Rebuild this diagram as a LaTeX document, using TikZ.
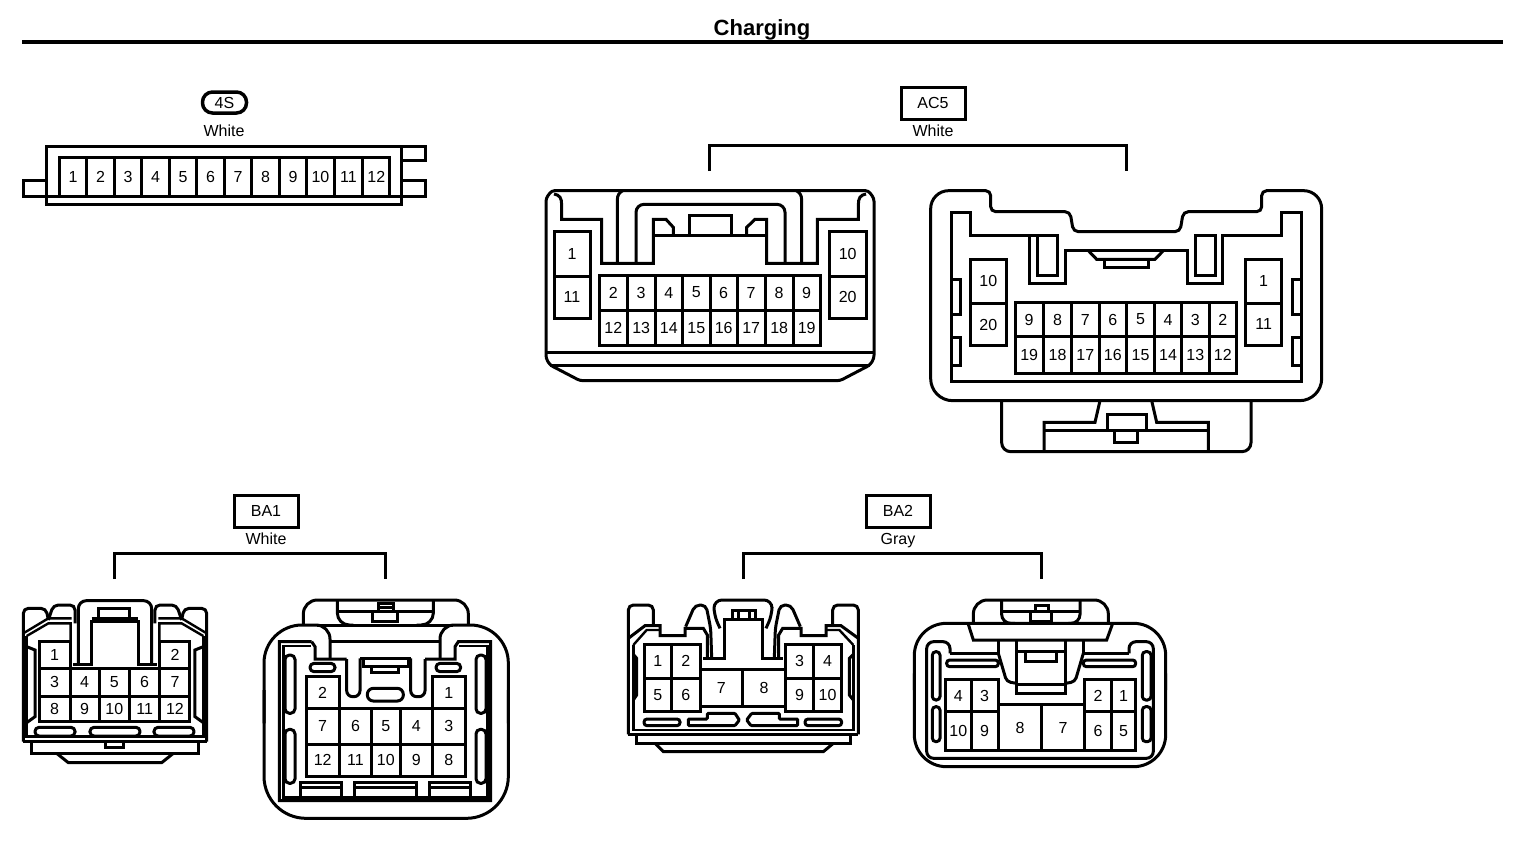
\documentclass[tikz,border=0pt]{standalone}
\usepackage{fontspec}
\setmainfont{Liberation Sans}
\newcount\pincount
\newcommand{\pincell}[5]{\global\advance\pincount by 1
  \draw[ln] (#1,#2) rectangle node[lbl] (pin\the\pincount) {#5} (#3,#4);}
\tikzset{
  ln/.style={line width=3pt,line join=miter,draw=black},
  thin ln/.style={line width=2.4pt,draw=black},
  lbl/.style={inner sep=0pt,font=\fontsize{16}{16}\selectfont,text=black},
  zm/.style n args={2}{shift={(#1,#2)},x=0.33333pt,y=-0.33333pt},
  badge/.style={draw=black,line width=3pt,inner sep=0pt,minimum width=64pt,minimum height=32pt,font=\fontsize{16}{16}\selectfont},
  capt/.style={inner sep=0pt,anchor=base,font=\fontsize{16}{16}\selectfont},
  bracket/.style={line width=3pt,line cap=butt,line join=miter}
}
\begin{document}
\begin{tikzpicture}[x=1pt,y=-1pt]
\useasboundingbox (0,0) rectangle (1520,854);
% ---------- title
\node[inner sep=0pt,anchor=base,font=\fontsize{22}{22}\selectfont\bfseries] (title) at (762,35) {Charging};
\draw[line width=4.5pt] (22,42) -- (1503,42);
% ---------- badges and captions
\node[draw=black,line width=3.5pt,rounded corners=10pt,minimum width=44pt,minimum height=21pt,inner sep=0pt,font=\fontsize{16}{16}\selectfont] (b4s) at (224.5,102.5) {4S};
\node[capt] (c4s) at (224,136) {White};
\node[badge] (bac5) at (933,103) {AC5};
\node[capt] (cac5) at (933,136) {White};
\node[badge] (bba1) at (266,511) {BA1};
\node[capt] (cba1) at (266,544) {White};
\node[badge] (bba2) at (898,511) {BA2};
\node[capt] (cba2) at (898,544) {Gray};
\draw[bracket] (709.5,171) -- (709.5,145) -- (1126.5,145) -- (1126.5,171);
\draw[bracket] (114.5,579) -- (114.5,553) -- (385.5,553) -- (385.5,579);
\draw[bracket] (743,579) -- (743,553) -- (1041,553) -- (1041,579);
% ---------- 4S
\begin{scope}[zm={0}{80}]
\draw[ln] (140,198) rectangle (1205,372);
\draw[ln] (140,348) -- (1205,348);
\draw[ln] (140,300) -- (72,300) -- (72,348) -- (140,348);
\draw[ln] (1205,198) -- (1278,198) -- (1278,240) -- (1205,240);
\draw[ln] (1205,300) -- (1278,300) -- (1278,348) -- (1205,348);
\foreach \a/\b/\t in {178/260/1,260/343/2,343/425/3,425/508/4,508/590/5,590/673/6,673/755/7,755/838/8,838/920/9,920/1003/10,1003/1088/11,1088/1170/12}
  {\pincell{\a}{232}{\b}{348}{\t}}
\end{scope}
% ---------- AC5 left
\begin{scope}[zm={530}{170}]
\draw[ln,rounded corners=3pt] (48,85) -- (65,62) -- (1015,62) -- (1032,85) -- (1032,565) -- (1020,585) -- (930,632) -- (150,632) -- (60,585) -- (48,565) -- cycle;
\draw[ln] (48,548) -- (1032,548);
\draw[ln] (60,585) -- (1020,585);
\draw[ln] (72,72) .. controls (90,75) and (95,85) .. (95,105) -- (95,148) -- (215,148) -- (215,280) -- (370,280) -- (370,148) -- (408,148) -- (430,172) -- (430,195);
\draw[ln] (370,195) -- (710,195);
\draw[ln] (1008,72) .. controls (990,75) and (985,85) .. (985,105) -- (985,148) -- (862,148) -- (862,280) -- (710,280) -- (710,148) -- (675,148) -- (650,172) -- (650,195);
\draw[ln] (262,280) -- (262,90) .. controls (262,75) and (268,68) .. (278,62);
\draw[ln] (815,280) -- (815,90) .. controls (815,75) and (809,68) .. (799,62);
\draw[ln,rounded corners=8pt] (318,280) -- (318,103) -- (765,103) -- (765,280);
\draw[ln] (478,195) -- (478,135) -- (603,135) -- (603,195);
\pincell{72}{183}{180}{318}{1}
\pincell{72}{318}{180}{445}{11}
\pincell{898}{183}{1008}{318}{10}
\pincell{898}{318}{1008}{445}{20}
\foreach \a/\b/\t/\u in {208/292/2/12,292/375/3/13,375/458/4/14,458/540/5/15,540/622/6/16,622/705/7/17,705/790/8/18,790/870/9/19}
  {\pincell{\a}{315}{\b}{420}{\t}\pincell{\a}{420}{\b}{527}{\u}}
\end{scope}
% ---------- AC5 right
\begin{scope}[zm={920}{180}]
\draw[ln,rounded corners=9pt] (245,662) -- (245,815) -- (993,815) -- (993,662);
\draw[ln] (372,815) -- (372,727) -- (525,727) -- (540,662);
\draw[ln] (865,815) -- (865,727) -- (710,727) -- (695,662);
\draw[ln] (372,750) -- (865,750);
\draw[ln,fill=white] (562,748) -- (562,703) -- (678,703) -- (678,748);
\draw[ln] (583,750) -- (583,788) -- (653,788) -- (653,750);
\draw[ln,rounded corners=18pt] (32,300) -- (32,32) [rounded corners=5pt] -- (212,32) -- (212,95) -- (450,95) -- (460,155) -- (780,155) -- (790,95) -- (1025,95) -- (1025,32) [rounded corners=18pt] -- (1205,32) [rounded corners=22pt] -- (1205,662) -- (32,662) -- cycle;
\draw[ln] (95,97) -- (95,605) -- (1145,605) -- (1145,97) -- (1085,97) -- (1085,165) -- (908,165) -- (908,310) -- (802,310) -- (802,212) -- (437,212) -- (437,310) -- (328,310) -- (328,165) -- (152,165) -- (152,97) -- cycle;
\draw[ln] (328,165) -- (352,165);
\draw[ln] (352,165) rectangle (412,285);
\draw[ln] (825,165) rectangle (885,285);
\draw[ln] (505,212) -- (530,238) -- (705,238) -- (730,212);
\draw[ln] (553,238) -- (553,262) -- (685,262) -- (685,238);
\draw[ln] (95,298) -- (122,298) -- (122,402) -- (95,402);
\draw[ln] (95,472) -- (122,472) -- (122,555) -- (95,555);
\draw[ln] (1145,298) -- (1116,298) -- (1116,402) -- (1145,402);
\draw[ln] (1145,472) -- (1116,472) -- (1116,555) -- (1145,555);
\pincell{152}{238}{258}{370}{10}
\pincell{152}{370}{258}{497}{20}
\pincell{977}{238}{1085}{370}{1}
\pincell{977}{370}{1085}{495}{11}
\foreach \a/\b/\t/\u in {285/370/9/19,370/455/8/18,455/537/7/17,537/620/6/16,620/703/5/15,703/785/4/14,785/867/3/13,867/950/2/12}
  {\pincell{\a}{367}{\b}{470}{\t}\pincell{\a}{470}{\b}{580}{\u}}
\end{scope}
% ---------- BA1 left
\begin{scope}[zm={10}{590}]
\draw[ln,rounded corners=5pt] (40,455) -- (40,55) -- (108,55) -- (115,90);
\draw[ln,rounded corners=5pt] (115,90) -- (130,45) -- (195,45) -- (195,100);
\draw[ln,rounded corners=5pt] (515,90) -- (500,45) -- (435,45) -- (435,100);
\draw[ln,rounded corners=5pt] (515,90) -- (522,55) -- (590,55) -- (590,455);
\draw[ln] (190,222) -- (245,222) -- (245,95) -- (385,95) -- (385,222) -- (440,222);
\draw[ln,rounded corners=8pt] (205,222) -- (205,32) -- (425,32) -- (425,222);
\draw[ln] (265,95) -- (265,55) -- (360,55) -- (360,95);
\draw[ln] (245,85) -- (385,85);
\draw[thin ln] (40,130) -- (115,85) -- (185,85);
\draw[thin ln] (50,138) -- (115,100) -- (182,100) -- (182,228);
\draw[thin ln] (590,130) -- (515,85) -- (445,85);
\draw[thin ln] (580,138) -- (515,100) -- (448,100) -- (448,228);
\draw[thin ln] (50,138) -- (50,440) -- (580,440) -- (580,138);
\draw[ln] (50,170) -- (75,180) -- (75,380) -- (50,398);
\draw[ln] (580,170) -- (555,180) -- (555,380) -- (580,398);
\draw[ln] (40,455) -- (590,455);
\draw[ln] (65,455) -- (65,490) -- (565,490) -- (565,455);
\draw[ln] (140,490) -- (175,518) -- (455,518) -- (490,490);
\draw[ln] (287,458) -- (287,472) -- (340,472) -- (340,458);
\draw[ln,rounded corners=4pt] (75,412) rectangle (195,438);
\draw[ln,rounded corners=4pt] (240,412) rectangle (390,438);
\draw[ln,rounded corners=4pt] (432,412) rectangle (552,438);
\pincell{87}{155}{180}{235}{1}
\pincell{450}{155}{540}{235}{2}
\foreach \a/\b/\t/\u in {87/180/3/8,180/268/4/9,268/358/5/10,358/450/6/11,450/540/7/12}
  {\pincell{\a}{235}{\b}{318}{\t}\pincell{\a}{318}{\b}{395}{\u}}
\end{scope}
% ---------- BA1 right
\begin{scope}[zm={250}{590}]
\draw[ln,rounded corners=14pt] (160,105) -- (160,30) -- (655,30) -- (655,105);
\draw[ln,rounded corners=12pt] (262,30) -- (262,105) -- (310,105);
\draw[ln,rounded corners=12pt] (550,30) -- (550,105) -- (500,105);
\draw[ln] (262,65) -- (550,65);
\draw[ln] (367,65) -- (367,95) -- (443,95) -- (443,65);
\draw[ln] (385,65) -- (385,40) -- (430,40) -- (430,65);
\draw[ln] (385,53) -- (430,53);
\draw[ln] (42,400) [rounded corners=38pt] -- (42,105) [rounded corners=14pt] -- (240,105) -- (240,205);
\draw[ln] (775,400) [rounded corners=38pt] -- (775,105) [rounded corners=14pt] -- (570,105) -- (570,205);
\draw[ln] (200,105) -- (610,105);
\draw[ln,rounded corners=42pt] (42,300) -- (42,685) -- (775,685) -- (775,300);
\draw[ln] (240,155) -- (570,155);
\draw[ln] (185,155) -- (88,155) -- (88,632) -- (722,632) -- (722,155) -- (625,155) -- (615,170) -- (615,207) -- (525,207);
\draw[thin ln] (182,168) -- (100,168) -- (100,622) -- (712,622) -- (712,168) -- (628,168);
\draw[ln] (185,155) -- (195,170) -- (195,207) -- (290,207);
\draw[ln,rounded corners=6pt] (290,207) -- (290,320) -- (330,320) -- (330,205);
\draw[ln,rounded corners=6pt] (482,205) -- (482,320) -- (525,320) -- (525,207);
\draw[ln] (330,205) -- (482,205);
\draw[ln] (340,205) -- (340,228) -- (475,228) -- (475,205);
\draw[ln] (365,228) -- (365,248) -- (445,248) -- (445,228);
\draw[ln,rounded corners=6pt] (352,295) rectangle (460,333);
\draw[ln,rounded corners=4pt] (180,220) rectangle (255,245);
\draw[ln,rounded corners=4pt] (558,220) rectangle (632,245);
\draw[ln,rounded corners=4.5pt] (105,195) rectangle (135,370);
\draw[ln,rounded corners=4.5pt] (105,418) rectangle (135,580);
\draw[ln,rounded corners=4.5pt] (678,195) rectangle (708,370);
\draw[ln,rounded corners=4.5pt] (678,418) rectangle (708,580);
\foreach \a/\b in {152/275,312/500,537/660}
  {\draw[ln] (\a,625) -- (\a,578) -- (\b,578) -- (\b,625);\draw[ln] (\a,592) -- (\b,592);}
\pincell{168}{260}{268}{355}{2}
\pincell{548}{260}{645}{355}{1}
\foreach \a/\b/\t/\u in {168/268/7/12,268/365/6/11,365/450/5/10,450/548/4/9,548/645/3/8}
  {\pincell{\a}{355}{\b}{462}{\t}\pincell{\a}{462}{\b}{560}{\u}}
\end{scope}
% ---------- BA2 left
\begin{scope}[zm={620}{595}]
\draw[ln,rounded corners=5pt] (25,418) -- (25,30) -- (100,30) -- (100,92);
\draw[ln,rounded corners=5pt] (715,418) -- (715,30) -- (638,30) -- (638,92);
\draw[ln,rounded corners=5pt] (197,95) -- (225,30) -- (258,30) -- (272,100) -- (275,188);
\draw[ln,rounded corners=5pt] (541,95) -- (513,30) -- (480,30) -- (466,100) -- (463,188);
\draw[ln,rounded corners=8pt] (300,100) -- (282,60) -- (282,15) -- (456,15) -- (456,60) -- (438,100);
\draw[ln] (250,190) -- (312,190) -- (312,72) -- (428,72) -- (428,190) -- (490,190);
\draw[ln] (338,72) -- (338,45) -- (405,45) -- (405,72);
\draw[ln] (355,72) -- (355,45);
\draw[ln] (388,72) -- (388,45);
\draw[ln] (25,130) -- (75,92) -- (120,92) -- (120,122) -- (195,122) -- (195,100) -- (250,100) -- (262,120) -- (262,190);
\draw[ln] (715,130) -- (663,92) -- (618,92) -- (618,122) -- (543,122) -- (543,100) -- (488,100) -- (476,120) -- (476,190);
\draw[thin ln] (40,150) -- (80,105) -- (120,105);
\draw[thin ln] (700,150) -- (658,105) -- (618,105);
\draw[thin ln] (40,150) -- (40,405) -- (700,405) -- (700,150);
\draw[ln] (40,178) -- (50,190) -- (50,300) -- (40,315);
\draw[ln] (700,178) -- (688,190) -- (688,300) -- (700,315);
\draw[ln] (25,418) -- (715,418);
\draw[ln] (48,418) -- (48,445) -- (690,445) -- (690,418);
\draw[ln] (105,445) -- (130,470) -- (610,470) -- (640,445);
\draw[ln,rounded corners=3pt] (72,372) rectangle (180,392);
\draw[ln,rounded corners=3pt] (555,372) rectangle (665,392);
\draw[ln,rounded corners=1pt] (205,372) -- (262,372) -- (262,355) -- (345,355) -- (358,375) -- (345,392) -- (205,392) -- cycle;
\draw[ln,rounded corners=1pt] (533,372) -- (478,372) -- (478,355) -- (395,355) -- (380,375) -- (393,392) -- (533,392) -- cycle;
\pincell{72}{147}{155}{250}{1}
\pincell{155}{147}{240}{250}{2}
\pincell{72}{250}{155}{350}{5}
\pincell{155}{250}{240}{350}{6}
\pincell{240}{222}{368}{335}{7}
\pincell{368}{222}{497}{335}{8}
\pincell{497}{147}{580}{250}{3}
\pincell{580}{147}{665}{250}{4}
\pincell{497}{250}{580}{350}{9}
\pincell{580}{250}{665}{350}{10}
\end{scope}
% ---------- BA2 right
\begin{scope}[zm={905}{590}]
\draw[ln,rounded corners=14pt] (205,100) -- (205,30) -- (610,30) -- (610,100);
\draw[ln,rounded corners=9pt] (290,30) -- (290,100) -- (330,100);
\draw[ln,rounded corners=9pt] (525,30) -- (525,100) -- (490,100);
\draw[ln] (290,65) -- (525,65);
\draw[ln] (375,65) -- (375,95) -- (440,95) -- (440,65);
\draw[ln] (390,65) -- (390,47) -- (430,47) -- (430,65);
\draw[ln,rounded corners=32pt] (28,300) -- (28,100) -- (782,100) -- (782,300);
\draw[ln,rounded corners=32pt] (28,250) -- (28,530) -- (782,530) -- (782,250);
\draw[ln] (190,103) -- (205,150) -- (605,150) -- (622,103);
\draw[ln,rounded corners=7pt] (135,190) -- (135,155) -- (65,155) -- (65,505) -- (745,505) -- (745,155) -- (672,155) -- (672,190);
\draw[ln] (135,190) -- (280,190) -- (280,150);
\draw[ln] (672,190) -- (535,190) -- (535,150);
\draw[ln,rounded corners=4pt] (280,190) -- (305,275) -- (335,280);
\draw[ln,rounded corners=4pt] (535,190) -- (510,275) -- (482,280);
\draw[ln] (335,150) -- (335,310) -- (482,310) -- (482,150);
\draw[ln] (335,185) -- (482,185);
\draw[ln] (335,282) -- (482,282);
\draw[ln] (360,190) -- (360,215) -- (455,215) -- (455,190);
\draw[ln,rounded corners=3pt] (125,210) rectangle (280,230);
\draw[ln,rounded corners=3pt] (535,210) rectangle (692,230);
\draw[ln,rounded corners=3.5pt] (82,185) rectangle (105,330);
\draw[ln,rounded corners=3.5pt] (82,350) rectangle (105,455);
\draw[ln,rounded corners=3.5pt] (712,185) rectangle (738,330);
\draw[ln,rounded corners=3.5pt] (712,350) rectangle (738,455);
\pincell{122}{268}{198}{365}{4}
\pincell{198}{268}{280}{365}{3}
\pincell{122}{365}{198}{482}{10}
\pincell{198}{365}{280}{482}{9}
\pincell{280}{343}{410}{482}{8}
\pincell{410}{343}{538}{482}{7}
\pincell{538}{268}{620}{365}{2}
\pincell{620}{268}{692}{365}{1}
\pincell{538}{365}{620}{482}{6}
\pincell{620}{365}{692}{482}{5}
\end{scope}
\end{tikzpicture}
\end{document}
